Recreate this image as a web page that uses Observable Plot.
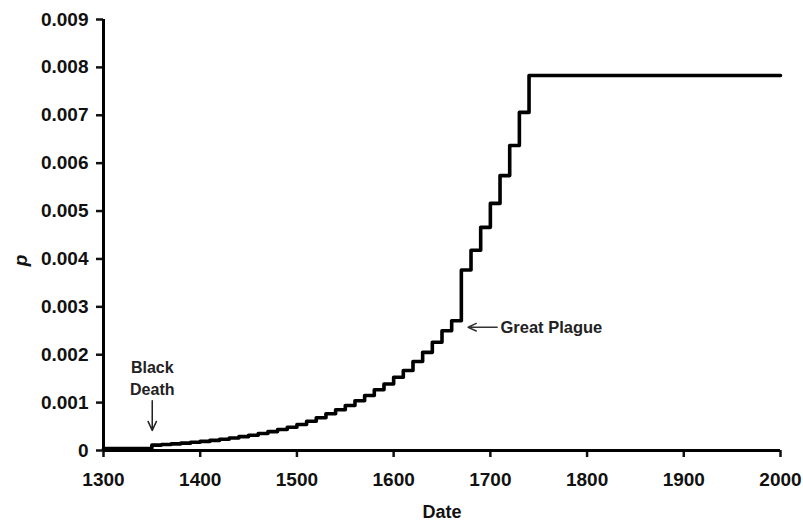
<!DOCTYPE html>
<html>
<head>
<meta charset="utf-8">
<script src="https://cdn.jsdelivr.net/npm/d3@7"></script>
<script src="https://cdn.jsdelivr.net/npm/@observablehq/plot@0.6"></script>
<style>
  html, body { margin: 0; padding: 0; background: #fff; }
  #chart { width: 803px; height: 523px; }
</style>
</head>
<body>
<div id="chart"></div>
<script>
// Step dates (start of each level) and the level of p from that date on
const years = [1300, 1350, 1360, 1370, 1380, 1390, 1400, 1410, 1420, 1430, 1440,
  1450, 1460, 1470, 1480, 1490, 1500, 1510, 1520, 1530, 1540, 1550, 1560, 1570,
  1580, 1590, 1600, 1610, 1620, 1630, 1640, 1650, 1660, 1670, 1680, 1690, 1700,
  1710, 1720, 1730, 1740, 2000];
const pValues = [0.00004, 0.000113, 0.000125, 0.000139, 0.000154, 0.000171, 0.00019,
  0.000211, 0.000235, 0.00026, 0.000289, 0.00032, 0.000356, 0.000395, 0.000438,
  0.000486, 0.000543, 0.000612, 0.000683, 0.000766, 0.00085, 0.00094, 0.00104,
  0.00115, 0.00127, 0.00139, 0.00153, 0.00167, 0.00186, 0.00205, 0.00226, 0.0025,
  0.00271, 0.00377, 0.00418, 0.00466, 0.00516, 0.00574, 0.00637, 0.00706, 0.00783,
  0.00783];

const xTicks = [1300, 1400, 1500, 1600, 1700, 1800, 1900, 2000];
const yTicks = [0, 0.001, 0.002, 0.003, 0.004, 0.005, 0.006, 0.007, 0.008, 0.009];
const yTickLabels = ["0", "0.001", "0.002", "0.003", "0.004", "0.005", "0.006", "0.007", "0.008", "0.009"];

const xLabel = "Date";
const yLabel = "p";

// Annotations
const blackDeath = {text: "Black\nDeath", x: 1350.4, y: 0.00153, ax1: 1350.4, ay1: 0.00104, ax2: 1350.4, ay2: 0.00042};
const greatPlague = {text: "Great Plague", x: 1710.5, y: 0.00256, ax1: 1707, ay1: 0.002574, ax2: 1677, ay2: 0.002574};

const data = years.map((d, i) => ({year: d, p: pValues[i]}));

const chart = Plot.plot({
  width: 803,
  height: 523,
  marginLeft: 103,
  marginRight: 23,
  marginTop: 19,
  marginBottom: 73,
  style: {fontFamily: "'Liberation Sans', Arial, sans-serif", fontWeight: "bold", fontSize: "19px", color: "#111", background: "#fff"},
  x: {domain: [1300, 2000]},
  y: {domain: [0, 0.009]},
  marks: [
    Plot.axisY({ticks: yTicks, tickFormat: (d) => yTickLabels[yTicks.indexOf(d)] ?? d, tickSize: 7, tickPadding: 8, strokeWidth: 2.5, label: null, fontSize: 19, fontWeight: "bold"}),
    Plot.axisX({ticks: xTicks, tickFormat: (d) => String(d), tickSize: 7, tickPadding: 15, strokeWidth: 2.5, label: null, fontSize: 19, fontWeight: "bold"}),
    Plot.ruleX([1300], {y1: 0, y2: 0.009, stroke: "#000", strokeWidth: 3}),
    Plot.ruleY([0], {x1: 1300, x2: 2000, stroke: "#000", strokeWidth: 3}),
    Plot.line(data, {x: "year", y: "p", curve: "step-after", stroke: "#000", strokeWidth: 3.6}),
    Plot.text([blackDeath], {x: "x", y: "y", text: "text", fontSize: 16, fontWeight: "bold", lineHeight: 1.33, fill: "#222"}),
    Plot.arrow([blackDeath], {x1: "ax1", y1: "ay1", x2: "ax2", y2: "ay2", stroke: "#222", strokeWidth: 1.5, headLength: 10, headAngle: 50}),
    Plot.text([greatPlague], {x: "x", y: "y", text: "text", textAnchor: "start", fontSize: 16.5, fontWeight: "bold", fill: "#222"}),
    Plot.arrow([greatPlague], {x1: "ax1", y1: "ay1", x2: "ax2", y2: "ay2", stroke: "#333", strokeWidth: 1.5, headLength: 9, headAngle: 50}),
    Plot.text([xLabel], {frameAnchor: "bottom", dy: 67, fontSize: 18, fontWeight: "bold"}),
    Plot.text([yLabel], {frameAnchor: "left", y: [0.00385], dx: -83, rotate: -90, fontSize: 19, fontWeight: "bold", fontStyle: "italic"})
  ]
});
document.getElementById("chart").appendChild(chart);
</script>
</body>
</html>
